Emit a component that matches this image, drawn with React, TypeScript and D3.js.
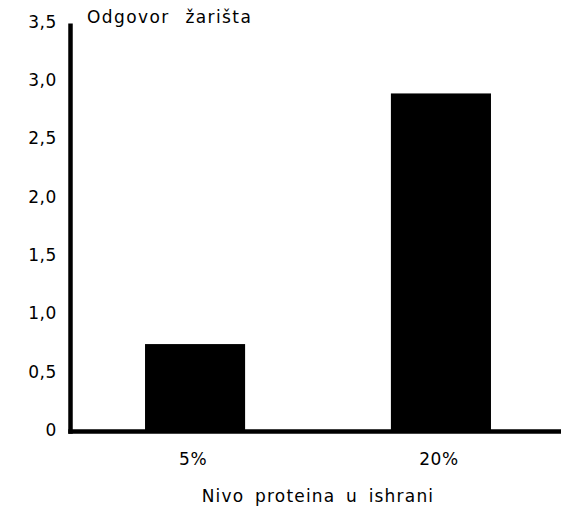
import React from "react";
import * as d3 from "d3";

const categories = ["5%", "20%"];
const values = [0.75, 2.9];
const yTicks = [0, 0.5, 1.0, 1.5, 2.0, 2.5, 3.0, 3.5];
const yTitle = "Odgovor žarišta";
const xTitle = "Nivo proteina u ishrani";

const W = 561;
const H = 511;

export default function App() {
  const y = d3.scaleLinear().domain([0, 3.5]).range([431.5, 23.5]);
  const x = d3
    .scaleBand<string>()
    .domain(categories)
    .range([72, 564])
    .paddingInner(0.593)
    .paddingOuter(0.297);
  const fmt = (v: number) => (v === 0 ? "0" : d3.format(".1f")(v).replace(".", ","));
  const font = "'DejaVu Sans', sans-serif";
  return (
    <svg
      width={W}
      height={H}
      style={{ position: "absolute", left: 0, top: 0 }}
      fontFamily={font}
    >
      <rect width={W} height={H} fill="#fff" />
      {categories.map((c, i) => (
        <rect
          key={c}
          x={x(c)}
          y={y(values[i])}
          width={x.bandwidth()}
          height={y(0) - y(values[i])}
          fill="#000"
        />
      ))}
      <line x1={70.5} x2={70.5} y1={y(3.5)} y2={y(0) + 2.2} stroke="#000" strokeWidth={4.5} />
      <line x1={68.3} x2={W} y1={y(0)} y2={y(0)} stroke="#000" strokeWidth={4.5} />
      {yTicks.map((t) => (
        <text key={t} x={57} y={y(t) + 4.3} textAnchor="end" fontSize={17} fill="#000" style={{ letterSpacing: "0.6px" }}>
          {fmt(t)}
        </text>
      ))}
      {categories.map((c) => (
        <text key={c} x={(x(c) as number) + x.bandwidth() / 2 - 2} y={465} textAnchor="middle" fontSize={17} fill="#000" style={{ letterSpacing: "0.5px" }}>
          {c}
        </text>
      ))}
      <text x={87} y={23} fontSize={17} fill="#000" style={{ letterSpacing: "1.4px", wordSpacing: "9px" }}>
        {yTitle}
      </text>
      <text x={318} y={502} textAnchor="middle" fontSize={17} fill="#000" style={{ letterSpacing: "1.2px", wordSpacing: "4px" }}>
        {xTitle}
      </text>
    </svg>
  );
}
